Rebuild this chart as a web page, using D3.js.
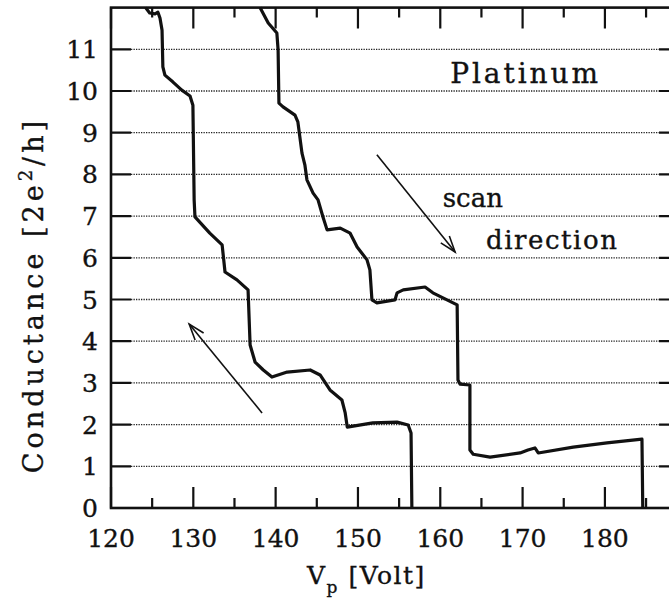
<!DOCTYPE html>
<html>
<head>
    <title>Platinum conductance</title>
    <script src="https://d3js.org/d3.v7.min.js"></script>
    <style>
        body { margin: 0; background: #fff; }
        svg { display: block; }
        text { font-family: "DejaVu Serif", serif; fill: #111; stroke: #111; stroke-width: 0.35px; }
    </style>
</head>
<body>
    <svg width="669" height="604"></svg>
    <script>
        // sweep going back (left curve, arrow pointing up-left)
        const scanUpV = [124.2, 124.7, 125.35, 125.7, 125.95, 126.2, 126.3, 126.55, 127.5, 128.6, 129.6, 129.95,
            130.1, 130.2, 132.0, 133.5, 133.85, 135.3, 136.65, 136.9, 137.5, 138.5, 139.55, 141.4, 144.2,
            145.4, 146.6, 148.05, 148.45, 148.7, 151.8, 154.75, 156.1, 156.45, 156.55];
        const scanUpG = [12.0, 11.87, 11.85, 11.89, 11.75, 11.46, 10.58, 10.38, 10.22, 10.02, 9.88, 9.66,
            7.39, 6.98, 6.59, 6.31, 5.66, 5.47, 5.23, 3.91, 3.5, 3.31, 3.14, 3.26, 3.31,
            3.19, 2.83, 2.59, 2.28, 1.94, 2.04, 2.06, 1.99, 1.80, 0];

        // sweep going forward (right curve, arrow pointing down-right)
        const scanDownV = [138.1, 139.1, 140.15, 140.3, 140.4, 140.9, 142.35, 142.7, 143.2, 143.55, 143.8, 144.55,
            145.15, 145.75, 146.25, 147.85, 149.05, 149.9, 151.1, 151.45, 151.7, 152.3, 154.5, 154.75,
            155.5, 158.15, 159.1, 162.05, 162.15, 162.4, 163.6, 163.6, 164.0, 166.05, 169.7, 170.65,
            171.5, 171.9, 176.15, 180.25, 184.5, 184.6];
        const scanDownG = [12.0, 11.63, 11.39, 10.98, 9.71, 9.62, 9.42, 9.26, 8.51, 8.23, 7.87, 7.55,
            7.39, 6.98, 6.67, 6.71, 6.59, 6.26, 5.95, 5.71, 4.99, 4.92, 4.99, 5.16,
            5.23, 5.30, 5.16, 4.87, 3.07, 2.97, 2.95, 1.39, 1.29, 1.22, 1.32, 1.39,
            1.44, 1.32, 1.46, 1.56, 1.65, 0];

        const xMajorTicks = [120, 130, 140, 150, 160, 170, 180];
        const xMinorTicks = [125, 135, 145, 155, 165, 175, 185];
        const yTicks = [0, 1, 2, 3, 4, 5, 6, 7, 8, 9, 10, 11];
        const gridLevels = [1, 2, 3, 4, 5, 6, 7, 8, 9, 10, 11];

        // arrows: [tailV, tailG, headV, headG]
        const arrowBack = [138.35, 2.28, 129.5, 4.41];
        const arrowForward = [152.3, 8.47, 161.8, 6.14];

        const svg = d3.select("svg");
        const x = d3.scaleLinear().domain([120, 189]).range([111, 679]);
        const y = d3.scaleLinear().domain([0, 12]).range([508, 7.6]);

        const defs = svg.append("defs");
        defs.append("marker")
            .attr("id", "head")
            .attr("markerUnits", "userSpaceOnUse")
            .attr("markerWidth", 40).attr("markerHeight", 40)
            .attr("viewBox", "-20 -20 40 40")
            .attr("refX", 0).attr("refY", 0)
            .attr("orient", "auto")
            .append("path")
            .attr("d", "M-16,-5.5 L0,0 L-16,5.5")
            .attr("fill", "none").attr("stroke", "#111").attr("stroke-width", 1.6);

        // dotted grid lines
        svg.append("g").selectAll("line")
            .data(gridLevels)
            .enter().append("line")
            .attr("x1", x(120) + 20).attr("x2", x(189) - 20)
            .attr("y1", d => y(d)).attr("y2", d => y(d))
            .attr("stroke", "#222").attr("stroke-width", 1.3)
            .attr("stroke-dasharray", "1.3,1.2");

        // frame
        svg.append("rect")
            .attr("x", x(120)).attr("y", y(12))
            .attr("width", x(189) - x(120)).attr("height", y(0) - y(12))
            .attr("fill", "none").attr("stroke", "#111").attr("stroke-width", 2.6);

        // inward frame ticks as one path
        const tickPath = d3.path();
        xMajorTicks.forEach(v => {
            tickPath.moveTo(x(v), y(0)); tickPath.lineTo(x(v), y(0) - 21);
            tickPath.moveTo(x(v), y(12)); tickPath.lineTo(x(v), y(12) + 21);
        });
        xMinorTicks.forEach(v => {
            tickPath.moveTo(x(v), y(0)); tickPath.lineTo(x(v), y(0) - 10);
            tickPath.moveTo(x(v), y(12)); tickPath.lineTo(x(v), y(12) + 10);
        });
        gridLevels.forEach(g => {
            tickPath.moveTo(x(120), y(g)); tickPath.lineTo(x(120) + 20, y(g));
            tickPath.moveTo(x(189), y(g)); tickPath.lineTo(x(189) - 20, y(g));
        });
        svg.append("path")
            .attr("d", tickPath.toString())
            .attr("fill", "none")
            .attr("stroke", "#111")
            .attr("stroke-width", 2.2);

        // the two sweeps
        const line = d3.line().x(d => x(d[0])).y(d => y(d[1]));
        const sweeps = [
            d3.zip(scanUpV, scanUpG),
            d3.zip(scanDownV, scanDownG)
        ];
        svg.append("g").selectAll("path")
            .data(sweeps)
            .enter().append("path")
            .attr("d", line)
            .attr("fill", "none")
            .attr("stroke", "#111")
            .attr("stroke-width", 3.2)
            .attr("stroke-linejoin", "round");

        // scan direction arrows
        [arrowBack, arrowForward].forEach(a => {
            svg.append("line")
                .attr("x1", x(a[0])).attr("y1", y(a[1]))
                .attr("x2", x(a[2])).attr("y2", y(a[3]))
                .attr("stroke", "#111").attr("stroke-width", 1.6)
                .attr("marker-end", "url(#head)");
        });

        // tick labels
        svg.append("g").selectAll("text")
            .data(xMajorTicks)
            .enter().append("text")
            .attr("x", d => x(d)).attr("y", 547)
            .attr("text-anchor", "middle")
            .attr("font-size", 25)
            .text(d => d);

        svg.append("g").selectAll("text")
            .data(yTicks)
            .enter().append("text")
            .attr("x", 98).attr("y", d => y(d))
            .attr("dy", "0.36em")
            .attr("text-anchor", "end")
            .attr("font-size", 25)
            .text(d => d);

        // axis titles
        const xTitle = svg.append("text")
            .attr("x", 307).attr("y", 584)
            .attr("font-size", 25)
            .attr("letter-spacing", 1.5);
        xTitle.append("tspan").text("V");
        xTitle.append("tspan").attr("font-size", 17).attr("dy", 9).text("p");
        xTitle.append("tspan").attr("dy", -9).text(" [Volt]");

        const yTitle = svg.append("text")
            .attr("transform", "translate(43,295) rotate(-90)")
            .attr("text-anchor", "middle")
            .attr("font-size", 27)
            .attr("letter-spacing", 4);
        yTitle.append("tspan").text("Conductance [2e");
        yTitle.append("tspan").attr("font-size", 18).attr("dy", -11).text("2");
        yTitle.append("tspan").attr("dy", 11).text("/h]");

        // annotations
        svg.append("text")
            .attr("x", x(161.2)).attr("y", y(10.19))
            .attr("font-size", 28)
            .attr("textLength", 148).attr("lengthAdjust", "spacing")
            .text("Platinum");
        svg.append("text")
            .attr("x", x(160.3)).attr("y", y(7.22))
            .attr("font-size", 26)
            .text("scan");
        svg.append("text")
            .attr("x", x(165.55)).attr("y", y(6.21))
            .attr("font-size", 26)
            .attr("textLength", 131).attr("lengthAdjust", "spacing")
            .text("direction");
    </script>
</body>
</html>
